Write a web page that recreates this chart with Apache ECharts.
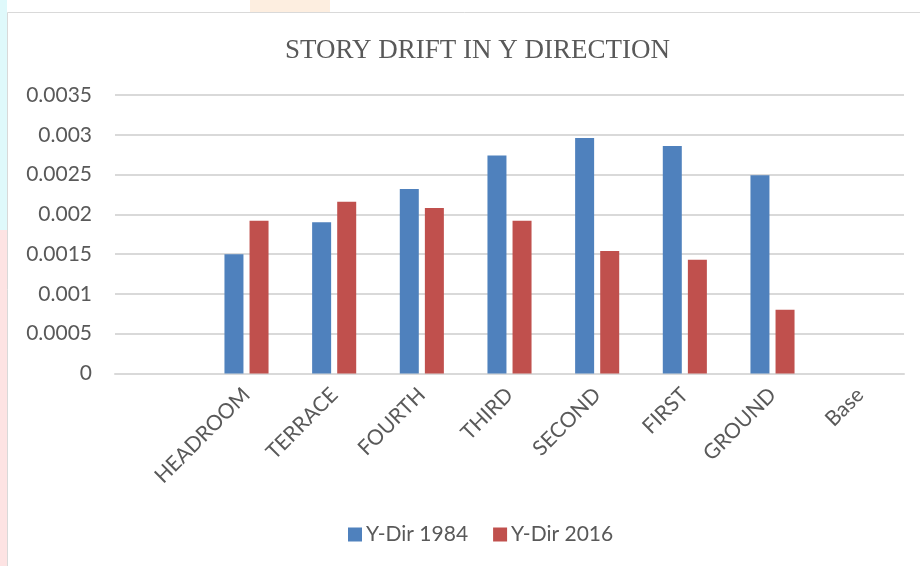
<!DOCTYPE html>
<html>
<head>
<meta charset="utf-8">
<script src="https://cdn.jsdelivr.net/npm/echarts@6/dist/echarts.min.js"></script>
<style>
  html, body { margin: 0; padding: 0; background: #fff; }
  #bar_chart { width: 920px; height: 566px; }
</style>
</head>
<body>
<div id="bar_chart"></div>
<script>
// storeys (first slot is left blank in the original)
const categories = ['', 'HEADROOM', 'TERRACE', 'FOURTH', 'THIRD', 'SECOND', 'FIRST', 'GROUND', 'Base']
const dir1984 = [null, 0.0015, 0.0019, 0.00232, 0.00274, 0.00296, 0.00286, 0.00249, 0]
const dir2016 = [null, 0.00192, 0.00216, 0.00208, 0.00192, 0.00154, 0.00143, 0.0008, 0]
const yTicks = [0, 0.0005, 0.001, 0.0015, 0.002, 0.0025, 0.003, 0.0035]

const myChart = echarts.init(document.getElementById('bar_chart'))

const textColor = '#595959'
const sans = 'Lato, "Open Sans", sans-serif'

const myOption = {
  backgroundColor: '#fff',
  animation: false,

  // page frame + faint document colours at the edge
  graphic: [
    { type: 'rect', shape: { x: 0, y: 0, width: 7, height: 230 }, style: { fill: '#dff9fb' }, z: -1 },
    { type: 'rect', shape: { x: 0, y: 230, width: 7, height: 336 }, style: { fill: '#fde3e3' }, z: -1 },
    { type: 'rect', shape: { x: 250, y: 0, width: 80, height: 12 }, style: { fill: '#fdeee0' }, z: -1 },
    { type: 'rect', shape: { x: 7.5, y: 12.5, width: 930, height: 600 }, style: { fill: 'none', stroke: '#d9d9d9', lineWidth: 1 }, z: -1 }
  ],

  title: {
    text: 'STORY DRIFT IN Y DIRECTION',
    left: 280,
    top: 32,
    textStyle: {
      color: textColor,
      fontSize: 27,
      fontWeight: 'normal',
      fontFamily: '"Liberation Serif", "DejaVu Serif", serif'
    }
  },

  legend: {
    bottom: 16,
    left: 343,
    itemWidth: 14,
    itemHeight: 14,
    itemGap: 25,
    icon: 'rect',
    textStyle: {
      color: textColor,
      fontSize: 21,
      fontFamily: sans,
      padding: [0, 0, 0, -1]
    }
  },

  grid: {
    left: 115,
    right: 16,
    top: 95,
    bottom: 192.5
  },

  xAxis: {
    type: 'category',
    data: categories,
    axisLine: { lineStyle: { color: '#d9d9d9', width: 2 } },
    axisTick: { show: false },
    axisLabel: {
      rotate: 45,
      margin: 18,
      interval: 0,
      color: textColor,
      fontSize: 21,
      fontFamily: sans
    }
  },

  yAxis: {
    type: 'value',
    min: yTicks[0],
    max: yTicks[yTicks.length - 1],
    interval: yTicks[1] - yTicks[0],
    axisLine: { show: false },
    axisTick: { show: false },
    splitLine: { lineStyle: { color: '#d9d9d9', width: 2 } },
    axisLabel: {
      margin: 23,
      color: textColor,
      fontSize: 21,
      fontFamily: sans,
      formatter: (v) => String(Number(v.toFixed(4)))
    }
  },

  series: [
    {
      name: 'Y-Dir 1984',
      type: 'bar',
      data: dir1984,
      barWidth: 19,
      barGap: '32%',
      itemStyle: { color: '#4F81BD' }
    },
    {
      name: 'Y-Dir 2016',
      type: 'bar',
      data: dir2016,
      barWidth: 19,
      itemStyle: { color: '#C0504D' }
    }
  ]
}
myChart.setOption(myOption)
</script>
</body>
</html>
